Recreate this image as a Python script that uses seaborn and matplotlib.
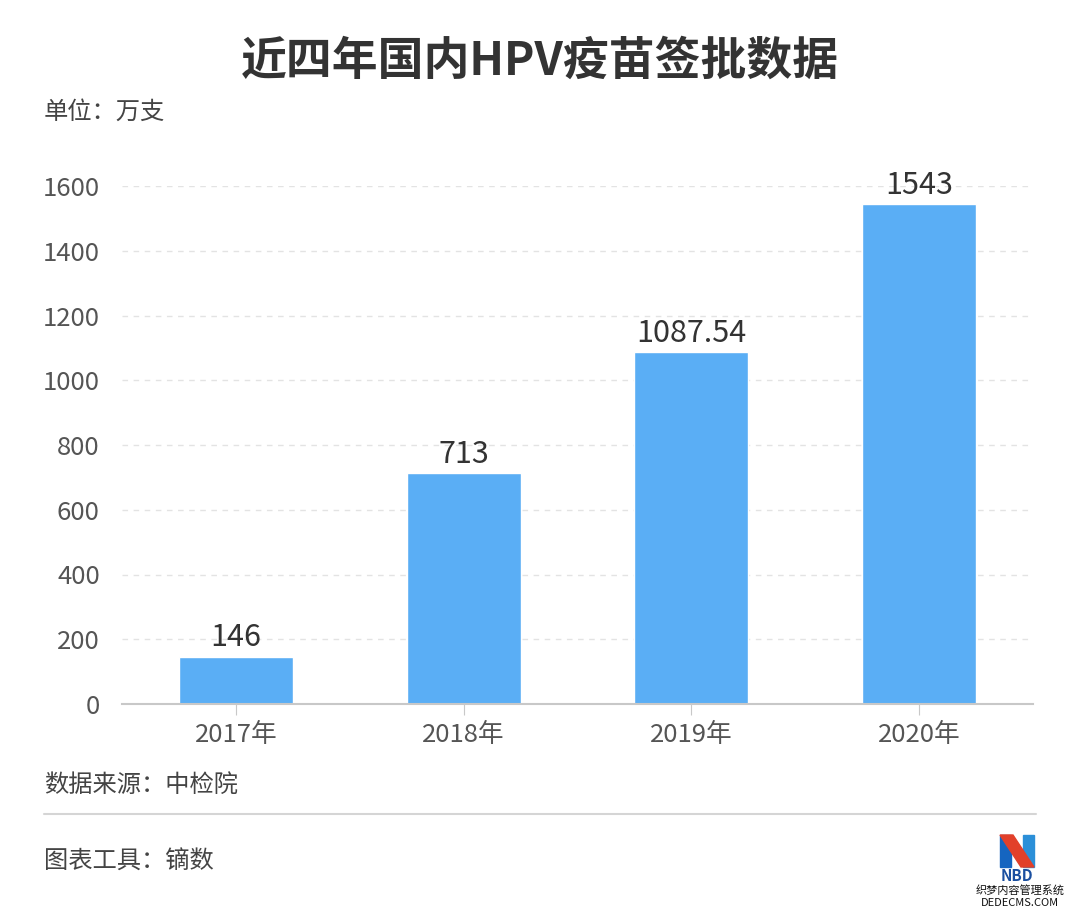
import matplotlib
matplotlib.use("Agg")
import matplotlib.pyplot as plt
from matplotlib.patches import Polygon
import seaborn as sns
import pandas as pd

# 数据
years = ["2017年", "2018年", "2019年", "2020年"]
values = [146, 713, 1087.54, 1543]
value_labels = ["146", "713", "1087.54", "1543"]
y_ticks = [0, 200, 400, 600, 800, 1000, 1200, 1400, 1600]

sns.set_style("white")
plt.rcParams['font.family'] = ['Noto Sans CJK SC', 'DejaVu Sans']

df = pd.DataFrame({"year": years, "value": values})

W, H = 1080, 918
fig = plt.figure(figsize=(W / 100, H / 100), dpi=100)
ax = fig.add_axes([122 / W, 1 - 704 / H, 911 / W, 518 / H])

sns.barplot(data=df, x="year", y="value", color="#5aaef5", saturation=1,
            width=0.5, ax=ax)

for i, (v, lab) in enumerate(zip(values, value_labels)):
    ax.text(i, v + 10, lab, ha="center", va="bottom", fontsize=22,
            color="#333333", clip_on=False)

ax.set_xlim(-0.5, 3.5)
ax.set_ylim(0, 1600)
ax.set_yticks(y_ticks)
ax.set_xlabel("")
ax.set_ylabel("")
ax.yaxis.grid(True, linestyle=(0, (4, 4)), color="#e3e3e3", linewidth=1)
ax.set_axisbelow(True)
for s in ["top", "right", "left"]:
    ax.spines[s].set_visible(False)
ax.spines["bottom"].set_color("#c8c8c8")
ax.spines["bottom"].set_linewidth(1.5)
ax.tick_params(axis="y", length=0, labelsize=18.5, labelcolor="#555555", pad=16)
ax.tick_params(axis="x", length=8, color="#c8c8c8", labelsize=18.5,
               labelcolor="#555555", pad=5, bottom=True)

# 标题和注释
fig.text(0.5, 1 - 62 / H, "近四年国内HPV疫苗签批数据", ha="center", va="center",
         fontsize=33, fontweight="bold", color="#333333")
fig.text(44 / W, 1 - 112 / H, "单位：万支", ha="left", va="center", fontsize=17.5,
         color="#444444")
fig.text(44 / W, 1 - 785 / H, "数据来源：中检院", ha="left", va="center",
         fontsize=17.5, color="#444444")
fig.add_artist(plt.Line2D([44 / W, 1036 / W], [1 - 814 / H, 1 - 814 / H],
                          color="#d5d5d5", linewidth=1.5))
fig.text(44 / W, 1 - 862 / H, "图表工具：镝数", ha="left", va="center",
         fontsize=17.5, color="#444444")


# NBD 标志
def fig_poly(pts, color):
    fig.patches.append(Polygon([(x / W, 1 - y / H) for x, y in pts],
                               closed=True, color=color,
                               transform=fig.transFigure, figure=fig))


fig_poly([(1000, 835), (1011, 835), (1011, 867), (1000, 867)], "#1565c0")
fig_poly([(1023, 835), (1034, 835), (1034, 867), (1023, 867)], "#2b8fd8")
fig_poly([(1000, 835), (1013, 835), (1034, 867), (1021, 867)], "#e2402a")
fig.text(1017 / W, 1 - 876 / H, "NBD", ha="center", va="center", fontsize=11,
         fontweight="bold", color="#1a4fa0")
fig.text(1020 / W, 1 - 890 / H, "织梦内容管理系统", ha="center", va="center",
         fontsize=8, color="#111111")
fig.text(1020 / W, 1 - 903 / H, "DEDECMS.COM", ha="center", va="center",
         fontsize=8, color="#111111")

fig.savefig("out.png", dpi=100)
